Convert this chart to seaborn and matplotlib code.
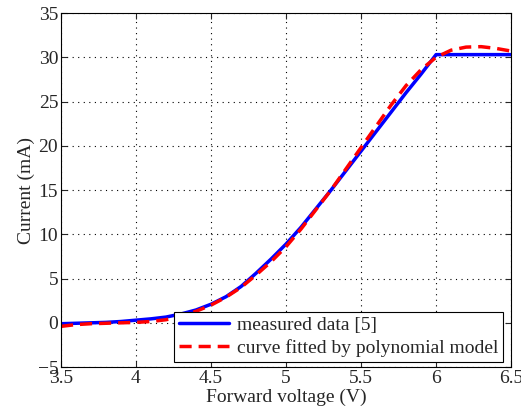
import numpy as np
import pandas as pd
import seaborn as sns
import matplotlib.pyplot as plt

# measured I-V curve
v_meas = [3.5, 3.6, 3.7, 3.8, 3.9, 4.0, 4.1, 4.2, 4.3, 4.4, 4.5, 4.6, 4.7, 4.8, 4.9,
          5.0, 5.1, 5.2, 5.3, 5.4, 5.5, 5.6, 5.7, 5.8, 5.9, 6.0, 6.5]
i_meas = [-0.1, -0.05, 0.0, 0.05, 0.15, 0.3, 0.45, 0.65, 1.0, 1.45, 2.1, 2.95, 4.1, 5.6, 7.2,
          8.9, 10.8, 12.9, 15.0, 17.2, 19.4, 21.6, 23.8, 26.0, 28.1, 30.3, 30.3]

# polynomial fit curve
v_fit = [3.5, 3.6, 3.7, 3.8, 3.9, 4.0, 4.1, 4.2, 4.3, 4.4, 4.5, 4.6, 4.7, 4.8, 4.9, 5.0,
         5.1, 5.2, 5.3, 5.4, 5.5, 5.6, 5.7, 5.8, 5.9, 6.0, 6.1, 6.2, 6.3, 6.4, 6.5]
i_fit = [-0.4, -0.2, -0.1, -0.05, 0.0, 0.05, 0.15, 0.35, 0.75, 1.3, 2.0, 2.9, 4.0, 5.4, 6.9, 8.6,
         10.6, 12.8, 15.0, 17.4, 19.8, 22.2, 24.6, 26.8, 28.6, 30.0, 30.8, 31.15, 31.2, 31.0, 30.7]

labels = ['measured data [5]', 'curve fitted by polynomial model']

sns.set_style('ticks')
plt.rcParams['font.family'] = ['Liberation Serif', 'DejaVu Serif']

fig = plt.figure(figsize=(5.21, 4.2), dpi=100)
ax = fig.add_axes([0.117, 0.126, 0.864, 0.843])

df_meas = pd.DataFrame({'v': v_meas, 'i': i_meas})
df_fit = pd.DataFrame({'v': v_fit, 'i': i_fit})
sns.lineplot(data=df_meas, x='v', y='i', ax=ax, color='#0000ff', linewidth=2.5,
             label=labels[0], sort=False)
sns.lineplot(data=df_fit, x='v', y='i', ax=ax, color='#ff0000', linewidth=2.5,
             linestyle=(0, (3.5, 2)), label=labels[1], sort=False)

ax.set_xlim(3.5, 6.5)
ax.set_ylim(-5, 35)
ax.set_xticks(np.arange(3.5, 6.51, 0.5))
ax.set_xticklabels(['3.5', '4', '4.5', '5', '5.5', '6', '6.5'])
ax.set_yticks(np.arange(-5, 36, 5))
ax.set_yticklabels(['\u22125'] + [str(t) for t in range(0, 36, 5)])
ax.grid(True, color='black', linestyle=(0, (1, 4)), linewidth=0.8)
ax.tick_params(direction='in', top=True, right=True, labelsize=14, length=4, pad=2)
for s in ax.spines.values():
    s.set_visible(True)
    s.set_linewidth(0.8)
    s.set_color('black')
ax.set_xlabel('Forward voltage (V)', fontsize=14, labelpad=1)
ax.set_ylabel('Current (mA)', fontsize=14, labelpad=2)

leg = ax.legend(loc='lower right', bbox_to_anchor=(0.983, 0.015), fontsize=14,
                frameon=True, fancybox=False, edgecolor='black', framealpha=1,
                borderpad=0.25, handlelength=2.6, handletextpad=0.4, labelspacing=0.25,
                borderaxespad=0)
leg.get_frame().set_linewidth(0.8)

fig.savefig('out.png', dpi=100)
